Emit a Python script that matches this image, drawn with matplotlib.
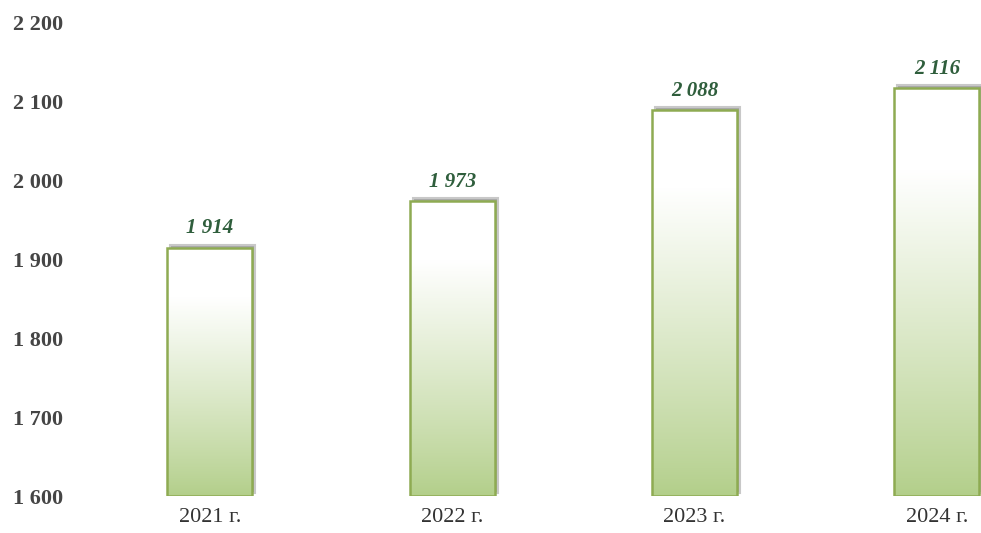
import matplotlib.pyplot as plt
import matplotlib.transforms as mtransforms
import numpy as np

# Données
annees = ['2021 г.', '2022 г.', '2023 г.', '2024 г.']
valeurs = [1914, 1973, 2088, 2116]
y_ticks = [1600, 1700, 1800, 1900, 2000, 2100, 2200]


def fmt(v):
    return f'{v:,}'.replace(',', ' ')


plt.rcParams['font.family'] = ['Liberation Serif', 'DejaVu Serif']

fig = plt.figure(figsize=(9.81, 5.33), dpi=100)
ax = fig.add_axes([80 / 981, 37 / 533, 901 / 981, 474 / 533])

x = np.arange(len(annees))
largeur = 0.35

# Barres avec contour vert
bars = ax.bar(x, np.array(valeurs) - 1600, bottom=1600, width=largeur,
              facecolor='none', edgecolor='#8eab52', linewidth=1.8, zorder=3)

# Dégradé vert -> blanc dans chaque barre
grad = np.linspace(0, 1, 256)
vert = np.array([0.70, 0.81, 0.54])
t = np.clip(grad / 0.8, 0, 1) ** 0.9
img = vert * (1 - t)[:, None] + t[:, None]
img = img.reshape(256, 1, 3)

decal = mtransforms.ScaledTranslation(3 / 100, 3 / 100, fig.dpi_scale_trans)
for b in bars:
    x0, y0 = b.get_x(), b.get_y()
    w, h = b.get_width(), b.get_height()
    # ombre grise en haut et à droite
    sh = plt.Rectangle((x0, y0), w, h, facecolor='#a8a8a8', edgecolor='#c8c8c8',
                       linewidth=1.5, zorder=1)
    sh.set_transform(ax.transData + decal)
    ax.add_patch(sh)
    im = ax.imshow(img, extent=(x0, x0 + w, y0, y0 + h), origin='lower',
                   aspect='auto', zorder=2, interpolation='bilinear')
    im.set_clip_path(b)

# Étiquettes de valeurs
for xi, v in zip(x, valeurs):
    ax.text(xi, v + 12, fmt(v), ha='center', va='bottom', fontsize=15,
            fontweight='bold', fontstyle='italic', color='#2f5e3c')

ax.set_xlim(-0.536, 3.182)
ax.set_ylim(1600, 2200)
ax.set_yticks(y_ticks)
ax.set_yticklabels([fmt(v) for v in y_ticks], fontsize=16, fontweight='bold',
                   color='#454545')
ax.set_xticks(x)
ax.set_xticklabels(annees, fontsize=16, color='#333333')
ax.tick_params(axis='both', length=0)
ax.tick_params(axis='y', pad=12)
ax.tick_params(axis='x', pad=9)
for s in ax.spines.values():
    s.set_visible(False)

fig.savefig('out.png', dpi=100)
